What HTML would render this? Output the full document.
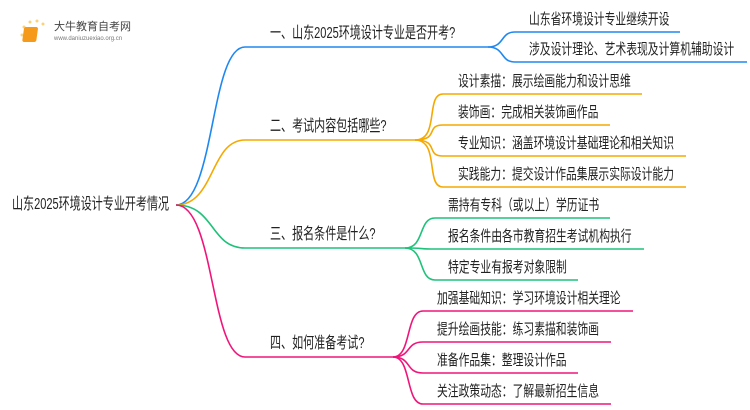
<!DOCTYPE html>
<html><head><meta charset="utf-8"><style>
body{margin:0;width:750px;height:410px;background:#fff;overflow:hidden;position:relative;font-family:"Liberation Sans","Noto Sans CJK SC",sans-serif;color:#222}
.t{position:absolute;white-space:nowrap;font-size:15px;line-height:16px;transform:scaleX(0.72);transform-origin:0 0}
.m{font-size:16px;line-height:18px;transform:scaleX(0.69)}
</style></head><body>
<svg width="750" height="410" style="position:absolute;left:0;top:0" fill="none" stroke-width="1.6">
<g stroke="#1e88f0">
<path d="M176 205 C215 205 210 47 245 47 H488"/>
<path d="M488 47 C505 47 500 32 515 32 H680"/>
<path d="M488 47 C505 47 500 62 515 62 H747"/>
</g>
<g stroke="#f5a800">
<path d="M176 205 C215 205 210 140 245 140 H415"/>
<path d="M415 140 C440 140 425 94 443 94 H642"/>
<path d="M415 140 C440 140 425 125 443 125 H610"/>
<path d="M415 140 C440 140 425 156 443 156 H686"/>
<path d="M415 140 C440 140 425 187 443 187 H686"/>
</g>
<g stroke="#1ec27a">
<path d="M176 205 C215 205 210 248 245 248 H405"/>
<path d="M405 248 C425 248 418 218 435 218 H610"/>
<path d="M405 248 C425 248 418 249 435 249 H644"/>
<path d="M405 248 C425 248 418 280 435 280 H578"/>
</g>
<g stroke="#f0157a">
<path d="M176 205 C215 205 210 357 245 357 H393"/>
<path d="M393 357 C412 357 405 311 423 311 H633"/>
<path d="M393 357 C412 357 405 342 423 342 H611"/>
<path d="M393 357 C412 357 405 373 423 373 H578"/>
<path d="M393 357 C412 357 405 404 423 404 H611"/>
</g>
<g stroke="none">
<circle cx="24" cy="27" r="1.5" fill="#fbd27a"/><circle cx="30" cy="22" r="1.5" fill="#fbd27a"/><circle cx="37" cy="21" r="1.5" fill="#fbd27a"/><circle cx="43" cy="24" r="1.5" fill="#fbd27a"/><circle cx="22" cy="35" r="1.5" fill="#fbd27a"/>
<rect x="28" y="27" width="14" height="15" rx="2" fill="#f59a1a" transform="skewX(-8)"/>
</g>
</svg>
<div class="t" style="left:54px;top:21px;font-size:11px;line-height:13px;color:#444;transform:none">大牛教育自考网</div>
<div class="t" style="left:54px;top:35px;font-size:6px;line-height:8px;color:#777;transform:none">www.daniuzuexiao.org.cn</div>
<div class="t m" style="left:12px;top:196px">山东2025环境设计专业开考情况</div>
<div class="t m" style="left:270px;top:25px">一、山东2025环境设计专业是否开考?</div>
<div class="t m" style="left:270px;top:118px">二、考试内容包括哪些?</div>
<div class="t m" style="left:270px;top:226px">三、报名条件是什么?</div>
<div class="t m" style="left:270px;top:335px">四、如何准备考试?</div>
<div class="t" style="left:529px;top:12px">山东省环境设计专业继续开设</div>
<div class="t" style="left:529px;top:42px">涉及设计理论、艺术表现及计算机辅助设计</div>
<div class="t" style="left:458px;top:74px">设计素描：展示绘画能力和设计思维</div>
<div class="t" style="left:458px;top:105px">装饰画：完成相关装饰画作品</div>
<div class="t" style="left:458px;top:136px">专业知识：涵盖环境设计基础理论和相关知识</div>
<div class="t" style="left:458px;top:167px">实践能力：提交设计作品集展示实际设计能力</div>
<div class="t" style="left:448px;top:198px">需持有专科（或以上）学历证书</div>
<div class="t" style="left:448px;top:229px">报名条件由各市教育招生考试机构执行</div>
<div class="t" style="left:448px;top:260px">特定专业有报考对象限制</div>
<div class="t" style="left:437px;top:291px">加强基础知识：学习环境设计相关理论</div>
<div class="t" style="left:437px;top:322px">提升绘画技能：练习素描和装饰画</div>
<div class="t" style="left:437px;top:353px">准备作品集：整理设计作品</div>
<div class="t" style="left:437px;top:384px">关注政策动态：了解最新招生信息</div>
</body></html>
